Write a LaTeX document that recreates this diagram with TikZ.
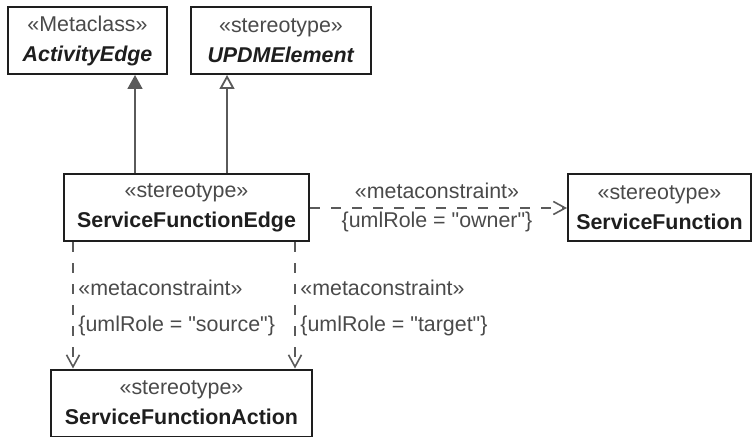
\documentclass[tikz,border=0pt]{standalone}
\usepackage{fontspec}
\setmainfont{Liberation Sans}
\usetikzlibrary{arrows.meta,positioning}
\definecolor{ink}{HTML}{1E1E1E}
\definecolor{stereo}{HTML}{4A4A4A}
\definecolor{edge}{HTML}{5A5A5A}

\begin{document}
\begin{tikzpicture}[
  x=0.5pt, y=-0.5pt,
  cls/.style={draw=ink, line width=1pt, fill=white, minimum height=33.5pt, inner sep=0pt, align=center, font=\fontsize{10.7}{15}\selectfont, text=ink},
  lbl/.style={font=\fontsize{10.7}{13}\selectfont, text=stereo, inner sep=0pt},
  gen/.style={-{Triangle[length=7pt,width=7.5pt,fill=edge]}, line width=0.9pt, color=edge},
  ext/.style={-{Triangle[open,length=7pt,width=7.5pt,fill=white]}, line width=0.9pt, color=edge},
  mc/.style={-{Straight Barb[length=6pt,width=6.5pt]}, line width=0.8pt, color=edge, dash pattern=on 5pt off 5.5pt},
]
\useasboundingbox (0,0) rectangle (753,437);

\node[cls, minimum width=79.5pt] (actedge) at (87.5, 40.5) {{\color{stereo}«Metaclass»}\\\textbf{\textit{ActivityEdge}}};
\node[cls, minimum width=90pt] (updm) at (281, 40.5) {{\color{stereo}«stereotype»}\\\textbf{\textit{UPDMElement}}};
\node[cls, minimum width=122.5pt] (sfedge) at (186.5, 208) {{\color{stereo}«stereotype»}\\\textbf{ServiceFunctionEdge}};
\node[cls, minimum width=91.5pt] (sfunc) at (659.5, 208) {{\color{stereo}«stereotype»}\\\textbf{ServiceFunction}};
\node[cls, minimum width=130.5pt] (sfaction) at (181.5, 403) {{\color{stereo}«stereotype»}\\\textbf{ServiceFunctionAction}};

\coordinate (g1) at (135, 0);
\coordinate (g2) at (227, 0);
\coordinate (s1) at (73, 0);
\coordinate (s2) at (295, 0);

\draw[gen] (sfedge.north -| g1) -- (actedge.south -| g1);
\draw[ext] (sfedge.north -| g2) -- (updm.south -| g2);

\draw[mc] (sfedge.east) -- (sfunc.west);
\draw[mc] (sfedge.south -| s1) -- (sfaction.north -| s1);
\draw[mc] (sfedge.south -| s2) -- (sfaction.north -| s2);

\node[lbl] (own1) at (437, 191) {«metaconstraint»};
\node[lbl] (own2) at (437, 222) {\{umlRole = \textquotedbl owner\textquotedbl\}};
\node[lbl, anchor=west] (src1) at (78, 288) {«metaconstraint»};
\node[lbl, anchor=west] (src2) at (78, 326) {\{umlRole = \textquotedbl source\textquotedbl\}};
\node[lbl, anchor=west] (tgt1) at (300, 288) {«metaconstraint»};
\node[lbl, anchor=west] (tgt2) at (300, 326) {\{umlRole = \textquotedbl target\textquotedbl\}};

\end{tikzpicture}
\end{document}
